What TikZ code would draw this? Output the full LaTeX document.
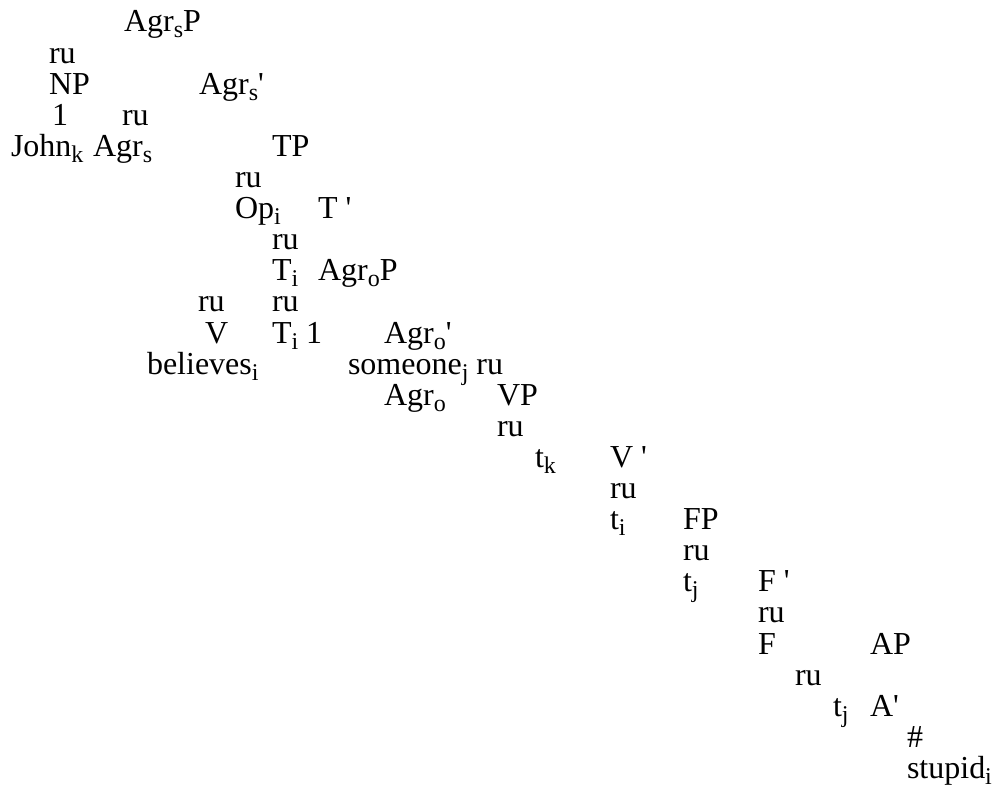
\documentclass[tikz,border=0pt]{standalone}
\usepackage{fontspec}
\newfontfamily\tms{Liberation Serif}
\newcommand\sbs[1]{\raisebox{-6pt}{\fontsize{24}{24}\selectfont #1}}
\tikzset{t/.style={anchor=base west, inner sep=0pt, outer sep=0pt, font=\tms\fontsize{32}{36}\selectfont}}
\begin{document}
\begin{tikzpicture}[x=1pt,y=-1pt]
\useasboundingbox (0,0) rectangle (995,805);
% row 1
\node[t] (agrsp) at (124,32) {Agr\sbs{s}P};
% row 2
\node[t] (ru1) at (49,63.1) {ru};
% row 3
\node[t] (np) at (49,94.2) {NP};
\node[t] (agrsbar) at (199,94.2) {Agr\sbs{s}'};
% row 4
\node[t] (one1) at (52,125.3) {1};
\node[t] (ru2) at (122,125.3) {ru};
% row 5
\node[t] (john) at (11,156.4) {John\sbs{k}};
\node[t] (agrs) at (93,156.4) {Agr\sbs{s}};
\node[t] (tp) at (272,156.4) {TP};
% row 6
\node[t] (ru3) at (235,187.5) {ru};
% row 7
\node[t] (op) at (235,218.6) {Op\sbs{i}};
\node[t] (tbar) at (318,218.6) {T '};
% row 8
\node[t] (ru4) at (272,249.7) {ru};
% row 9
\node[t] (ti1) at (272,280.8) {T\sbs{i}};
\node[t] (agrop) at (318,280.8) {Agr\sbs{o}P};
% row 10
\node[t] (ru5) at (198,311.9) {ru};
\node[t] (ru6) at (272,311.9) {ru};
% row 11
\node[t] (v) at (205,343) {V};
\node[t] (ti2) at (272,343) {T\sbs{i} 1};
\node[t] (agrobar) at (384,343) {Agr\sbs{o}'};
% row 12
\node[t] (believes) at (147,374.1) {believes\sbs{i}};
\node[t] (someone) at (348,374.1) {someone\sbs{j} ru};
% row 13
\node[t] (agro) at (384,405.2) {Agr\sbs{o}};
\node[t] (vp) at (497,405.2) {VP};
% row 14
\node[t] (ru7) at (497,436.3) {ru};
% row 15
\node[t] (tk) at (535,467.4) {t\sbs{k}};
\node[t] (vbar) at (610,467.4) {V '};
% row 16
\node[t] (ru8) at (610,498.5) {ru};
% row 17
\node[t] (ti3) at (610,529.6) {t\sbs{i}};
\node[t] (fp) at (683,529.6) {FP};
% row 18
\node[t] (ru9) at (683,560.7) {ru};
% row 19
\node[t] (tj1) at (683,591.8) {t\sbs{j}};
\node[t] (fbar) at (758,591.8) {F '};
% row 20
\node[t] (ru10) at (758,622.9) {ru};
% row 21
\node[t] (f) at (758,654) {F};
\node[t] (ap) at (870,654) {AP};
% row 22
\node[t] (ru11) at (795,685.1) {ru};
% row 23
\node[t] (tj2) at (833,716.2) {t\sbs{j}};
\node[t] (abar) at (870,716.2) {A'};
% row 24
\node[t] (hash) at (907,747.3) {\#};
% row 25
\node[t] (stupid) at (907,778.4) {stupid\sbs{i}};
\end{tikzpicture}
\end{document}
